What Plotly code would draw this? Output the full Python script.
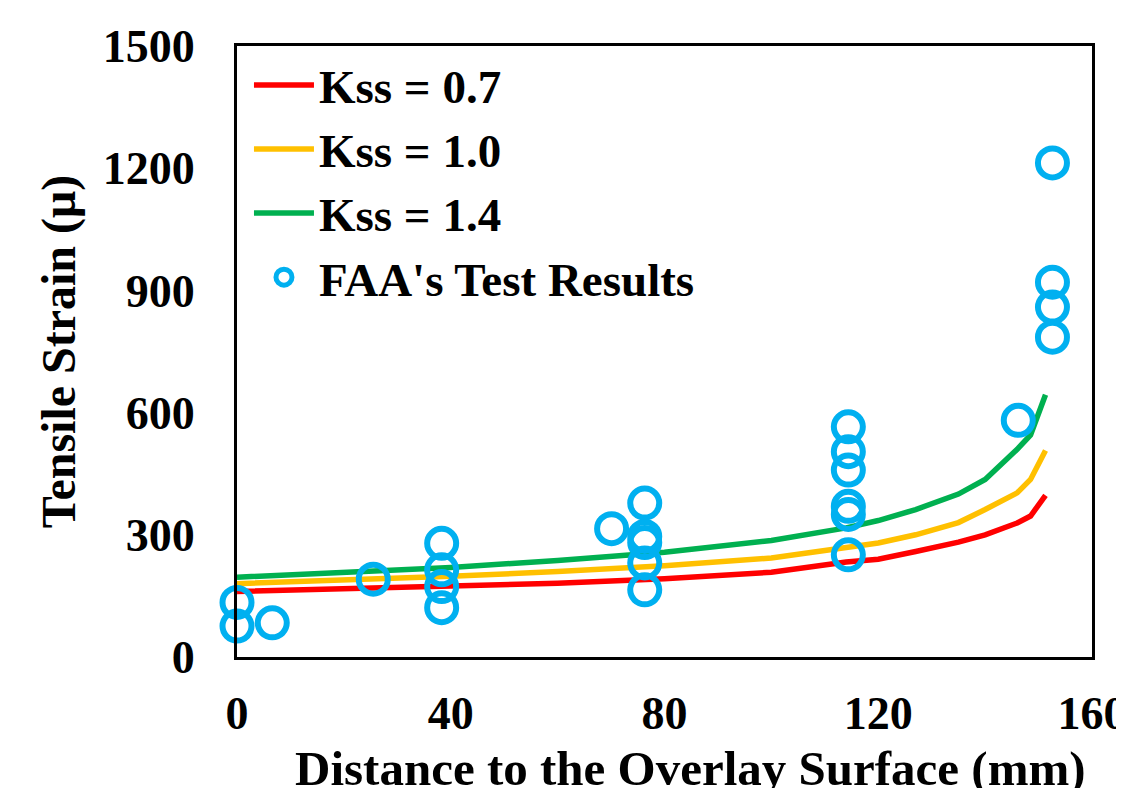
import plotly.graph_objects as go

# Model curves (distance mm, tensile strain micro)
x_model = [0, 20, 40, 60, 80, 100, 114, 120, 127, 135, 140, 146, 148.5, 151.3]
kss_07 = [161, 167, 173, 181, 192, 208, 233, 240, 259, 282, 300, 329, 346, 397]
kss_10 = [180, 188, 198, 210, 224, 243, 268, 280, 300, 330, 362, 403, 436, 507]
kss_14 = [196, 207, 220, 237, 257, 286, 317, 335, 362, 400, 436, 510, 545, 644]

# FAA test results
faa_x = [0, 0, 6.6, 25.5, 38.3, 38.3, 38.3, 38.3, 70.1, 76.3, 76.3, 76.3, 76.3, 76.3,
         114.4, 114.4, 114.4, 114.4, 114.4, 114.4, 146.2, 152.6, 152.6, 152.6, 152.6]
faa_y = [134, 76, 84, 191, 279, 214, 173, 121, 315, 378, 296, 281, 231, 165,
         565, 504, 459, 370, 350, 251, 581, 1213, 920, 859, 785]

x_ticks = [0, 40, 80, 120, 160]
y_ticks = [0, 300, 600, 900, 1200, 1500]

font_family = "Liberation Serif"

fig = go.Figure()
fig.add_trace(go.Scatter(x=x_model, y=kss_07, mode="lines", name="Kss = 0.7",
                         line=dict(color="#FF0000", width=5.5)))
fig.add_trace(go.Scatter(x=x_model, y=kss_10, mode="lines", name="Kss = 1.0",
                         line=dict(color="#FFC000", width=5.5)))
fig.add_trace(go.Scatter(x=x_model, y=kss_14, mode="lines", name="Kss = 1.4",
                         line=dict(color="#00B050", width=5.5)))
fig.add_trace(go.Scatter(x=faa_x, y=faa_y, mode="markers", name="FAA's Test Results",
                         cliponaxis=False,
                         marker=dict(symbol="circle-open", size=29, color="#00B0F0",
                                     line=dict(width=6, color="#00B0F0"))))

# page body has an 8px margin: compensate so the plot area lands where intended
fig.update_layout(
    width=1116, height=790,
    margin=dict(l=229, r=32, t=38, b=141, autoexpand=False),
    paper_bgcolor="white", plot_bgcolor="white",
    font=dict(family=font_family, color="black"),
    showlegend=True,
    legend=dict(x=0.014, y=0.997, xanchor="left", yanchor="top",
                font=dict(size=47, family=font_family, color="black", weight="bold"),
                bgcolor="rgba(0,0,0,0)", itemwidth=60, tracegroupgap=0),
    annotations=[dict(text="Distance to the Overlay Surface (mm)",
                      xref="paper", yref="paper", x=0.53, y=0,
                      xanchor="center", yanchor="middle", yshift=-111,
                      showarrow=False,
                      font=dict(size=49, family=font_family, color="black", weight="bold"))],
)
fig.update_xaxes(
    range=[0, 160], tickvals=x_ticks, ticktext=[str(v) for v in x_ticks],
    showgrid=False, zeroline=False, showline=True, linecolor="black", linewidth=3,
    mirror=True, ticks="", ticklabelstandoff=14, ticklabeloverflow="allow",
    automargin=False,
    tickfont=dict(size=46, family=font_family, weight="bold"),
)
fig.update_yaxes(
    range=[0, 1500], tickvals=y_ticks, ticktext=[str(v) for v in y_ticks],
    showgrid=False, zeroline=False, showline=True, linecolor="black", linewidth=3,
    mirror=True, ticks="", ticklabelstandoff=30,
    automargin=False,
    tickfont=dict(size=46, family=font_family, weight="bold"),
    title=dict(text="Tensile Strain (μ)", standoff=12,
               font=dict(size=48, family=font_family, weight="bold")),
)

fig.write_html("out.html")
